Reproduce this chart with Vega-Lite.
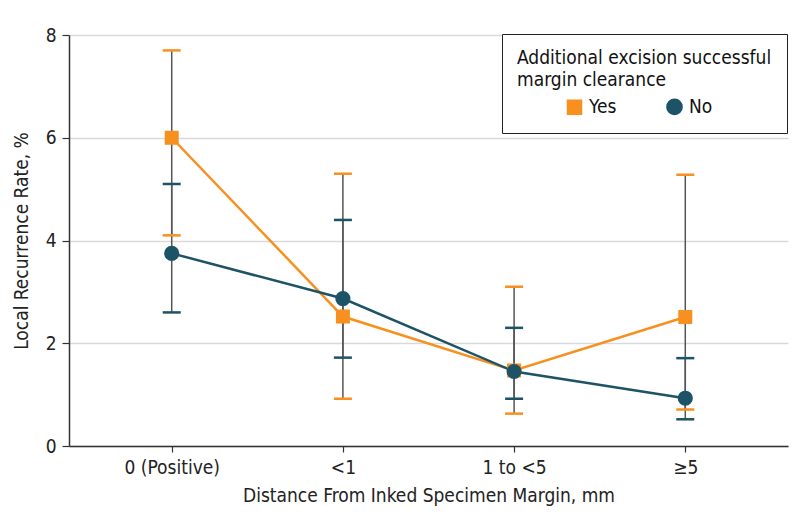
{
  "$schema": "https://vega.github.io/schema/vega-lite/v6.json",
  "width": 719,
  "height": 411,
  "autosize": {"type": "none"},
  "padding": {"left": 69, "top": 35, "right": 6, "bottom": 82},
  "background": "white",
  "config": {
    "font": "DejaVu Sans Condensed",
    "view": {"stroke": null},
    "axis": {
      "labelFont": "DejaVu Sans Condensed",
      "titleFont": "DejaVu Sans Condensed",
      "labelFontSize": 19,
      "titleFontSize": 19,
      "titleFontWeight": "normal",
      "labelColor": "#222",
      "titleColor": "#222",
      "domainColor": "#333",
      "tickColor": "#333",
      "domainWidth": 1.5,
      "tickWidth": 1.2
    },
    "legend": {
      "titleFont": "DejaVu Sans Condensed",
      "labelFont": "DejaVu Sans Condensed"
    }
  },
  "data": {
    "values": [
      {"cat": "0 (Positive)", "group": "Yes", "value": 6.0, "lo": 4.1, "hi": 7.7},
      {"cat": "<1", "group": "Yes", "value": 2.52, "lo": 0.92, "hi": 5.3},
      {"cat": "1 to <5", "group": "Yes", "value": 1.47, "lo": 0.63, "hi": 3.1},
      {"cat": "≥5", "group": "Yes", "value": 2.51, "lo": 0.71, "hi": 5.28},
      {"cat": "0 (Positive)", "group": "No", "value": 3.75, "lo": 2.6, "hi": 5.1},
      {"cat": "<1", "group": "No", "value": 2.87, "lo": 1.72, "hi": 4.4},
      {"cat": "1 to <5", "group": "No", "value": 1.45, "lo": 0.92, "hi": 2.3},
      {"cat": "≥5", "group": "No", "value": 0.93, "lo": 0.52, "hi": 1.71}
    ]
  },
  "encoding": {
    "x": {
      "field": "cat",
      "type": "nominal",
      "sort": ["0 (Positive)", "<1", "1 to <5", "≥5"],
      "scale": {"type": "point", "padding": 0.6},
      "axis": {
        "title": "Distance From Inked Specimen Margin, mm",
        "labelAngle": 0,
        "tickSize": 6,
        "labelPadding": 6,
        "titlePadding": 9,
        "grid": false
      }
    }
  },
  "layer": [
    {
      "mark": {"type": "rule", "color": "#555", "strokeWidth": 1.5},
      "encoding": {
        "y": {
          "field": "lo",
          "type": "quantitative",
          "scale": {"domain": [0, 8]},
          "axis": {
            "title": "Local Recurrence Rate, %",
            "values": [0, 2, 4, 6, 8],
            "tickSize": 7,
            "labelPadding": 6,
            "titlePadding": 14,
            "grid": true,
            "gridColor": "#d9d9d9",
            "gridWidth": 1.5
          }
        },
        "y2": {"field": "hi"}
      }
    },
    {
      "mark": {"type": "tick", "orient": "horizontal", "size": 18, "thickness": 2.5, "opacity": 1},
      "encoding": {
        "y": {"field": "lo", "type": "quantitative"},
        "color": {
          "field": "group",
          "type": "nominal",
          "scale": {"domain": ["Yes", "No"], "range": ["#F7901E", "#1D5366"]},
          "legend": {
            "title": ["Additional excision successful", "margin clearance"],
            "orient": "none",
            "legendX": 433,
            "legendY": -1,
            "direction": "horizontal",
            "strokeColor": "#222",
            "fillColor": "white",
            "padding": 15,
            "titleFontSize": 19,
            "titleFontWeight": "normal",
            "titleColor": "#111",
            "titleLimit": 400,
            "titleLineHeight": 22,
            "titlePadding": 7,
            "labelFontSize": 19,
            "labelColor": "#111",
            "symbolSize": 180,
            "symbolOffset": 48,
            "labelOffset": 5,
            "columnPadding": 0,
            "symbolOpacity": 1
          }
        }
      }
    },
    {
      "mark": {"type": "tick", "orient": "horizontal", "size": 18, "thickness": 2.5, "opacity": 1},
      "encoding": {
        "y": {"field": "hi", "type": "quantitative"},
        "color": {"field": "group", "type": "nominal"}
      }
    },
    {
      "mark": {"type": "line", "strokeWidth": 2.5},
      "encoding": {
        "y": {"field": "value", "type": "quantitative"},
        "color": {"field": "group", "type": "nominal"},
        "detail": {"field": "group"}
      }
    },
    {
      "mark": {"type": "point", "filled": true, "opacity": 1},
      "encoding": {
        "y": {"field": "value", "type": "quantitative"},
        "color": {"field": "group", "type": "nominal"},
        "shape": {
          "field": "group",
          "type": "nominal",
          "scale": {"domain": ["Yes", "No"], "range": ["square", "circle"]}
        },
        "size": {
          "field": "group",
          "type": "nominal",
          "scale": {"domain": ["Yes", "No"], "range": [196, 230]},
          "legend": null
        }
      }
    }
  ]
}
